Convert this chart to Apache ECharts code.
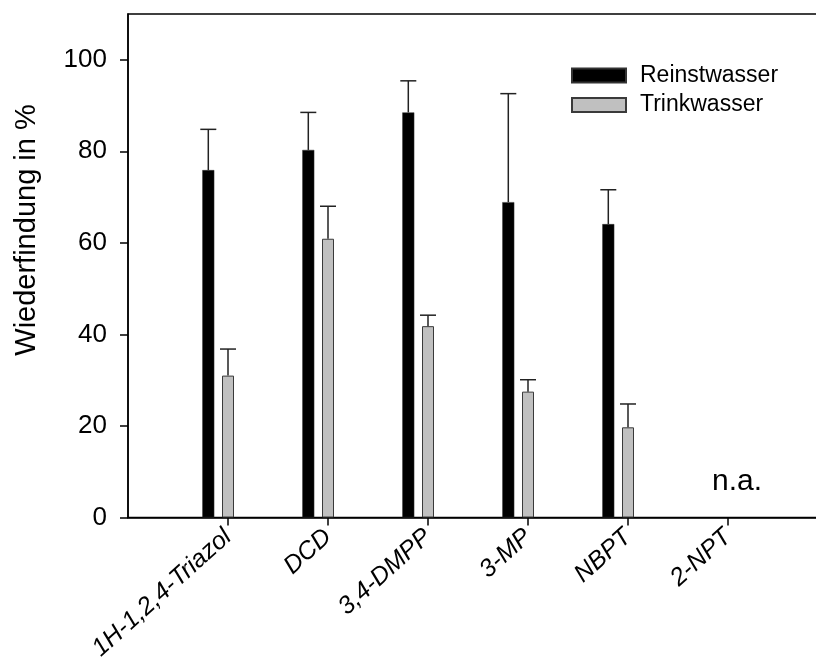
<!DOCTYPE html>
<html>
<head>
<meta charset="utf-8">
<script src="https://cdn.jsdelivr.net/npm/echarts@6/dist/echarts.min.js"></script>
<style>
  html, body { margin: 0; padding: 0; background: #fff; }
  #chart { width: 816px; height: 659px; }
</style>
</head>
<body>
<div id="chart"></div>
<script>
  // leading / trailing empty slots keep the frame like the original plot
  const categories = ['', '1H-1,2,4-Triazol', 'DCD', '3,4-DMPP', '3-MP', 'NBPT', '2-NPT', '']
  const reinstwasser = ['-', 75.9, 80.3, 88.5, 68.9, 64.1, '-', '-']
  const reinstwasserErr = ['-', 8.9, 8.2, 6.9, 23.7, 7.5, '-', '-']
  const trinkwasser = ['-', 31.0, 60.9, 41.8, 27.5, 19.7, '-', '-']
  const trinkwasserErr = ['-', 5.8, 7.1, 2.4, 2.6, 5.1, '-', '-']
  const naCategory = '2-NPT'
  const yTicks = [0, 20, 40, 60, 80, 100]

  const FONT = '"Liberation Sans", Arial, sans-serif'
  const BAR_W = 12
  const GAP = 7.7

  function errorData (values, errs) {
    let out = []
    for (let i = 0; i < values.length; i++) {
      if (values[i] !== '-') out.push([i, values[i], values[i] + errs[i]])
    }
    return out
  }

  function errorSeries (values, errs, shift) {
    return {
      type: 'custom',
      data: errorData(values, errs),
      z: 3,
      silent: true,
      renderItem: function (params, api) {
        let base = api.coord([api.value(0), api.value(1)])
        let top = api.coord([api.value(0), api.value(2)])
        let x = base[0] + shift
        let style = { stroke: '#222', lineWidth: 1.5 }
        return {
          type: 'group',
          children: [
            { type: 'line', shape: { x1: x, y1: base[1], x2: x, y2: top[1] }, style: style },
            { type: 'line', shape: { x1: x - 8, y1: top[1], x2: x + 8, y2: top[1] }, style: style }
          ]
        }
      }
    }
  }

  let chart = echarts.init(document.getElementById('chart'))
  let option = {
    animation: false,
    textStyle: { fontFamily: FONT },
    grid: {
      left: 128,
      width: 700,
      top: 14,
      bottom: 141.5,
      outerBoundsMode: 'none',
      containLabel: false,
      show: true,
      borderColor: '#000',
      borderWidth: 1.5,
      backgroundColor: 'transparent'
    },
    legend: {
      data: ['Reinstwasser', 'Trinkwasser'],
      orient: 'vertical',
      left: 571,
      top: 64,
      padding: 0,
      itemWidth: 54,
      itemHeight: 14,
      itemGap: 6.4,
      icon: 'rect',
      textStyle: { fontSize: 23, color: '#000', fontFamily: FONT, padding: [0, 0, 0, 9] }
    },
    graphic: [{
      type: 'text',
      x: 27,
      y: 230,
      rotation: Math.PI / 2,
      style: {
        text: 'Wiederfindung in %',
        fontSize: 29,
        fontFamily: FONT,
        fill: '#000',
        align: 'center',
        verticalAlign: 'middle'
      }
    }],
    xAxis: {
      type: 'category',
      data: categories,
      boundaryGap: false,
      axisLine: { lineStyle: { color: '#000', width: 1.5 } },
      axisTick: {
        length: 8,
        lineStyle: { color: '#000', width: 1.5 },
        interval: function (i) { return i > 0 && i < categories.length - 1 }
      },
      axisLabel: {
        rotate: 42,
        margin: 16,
        fontSize: 25,
        fontStyle: 'italic',
        color: '#000',
        fontFamily: FONT,
        interval: 0
      },
      splitLine: { show: false }
    },
    yAxis: {
      type: 'value',
      min: 0,
      max: 110,
      interval: 20,
      axisLine: { show: true, lineStyle: { color: '#000', width: 1.5 } },
      axisTick: { show: true, length: 8, customValues: yTicks, lineStyle: { color: '#000', width: 1.5 } },
      axisLabel: { margin: 21, fontSize: 26, color: '#000', fontFamily: FONT, customValues: yTicks },
      splitLine: { show: false }
    },
    series: [
      {
        name: 'Reinstwasser',
        type: 'bar',
        data: reinstwasser,
        barWidth: BAR_W,
        barGap: (GAP / BAR_W * 100) + '%',
        itemStyle: { color: '#000', borderColor: '#333', borderWidth: 0.5 }
      },
      {
        name: 'Trinkwasser',
        type: 'bar',
        data: trinkwasser,
        barWidth: BAR_W,
        itemStyle: { color: '#c0c0c0', borderColor: '#3a3a3a', borderWidth: 1 }
      },
      {
        // empty slot so that the grey bar sits on the tick
        name: 'spacer',
        type: 'bar',
        data: categories.map(() => '-'),
        barWidth: BAR_W
      },
      errorSeries(reinstwasser, reinstwasserErr, -(BAR_W + GAP)),
      errorSeries(trinkwasser, trinkwasserErr, 0),
      {
        type: 'scatter',
        data: [[naCategory, 0]],
        symbolSize: 0,
        silent: true,
        itemStyle: { opacity: 1 },
        label: {
          show: true,
          formatter: 'n.a.',
          position: 'inside',
          offset: [9, -36],
          fontSize: 30,
          color: '#000',
          textBorderWidth: 0,
          fontFamily: FONT
        }
      }
    ]
  }
  chart.setOption(option)
</script>
</body>
</html>
